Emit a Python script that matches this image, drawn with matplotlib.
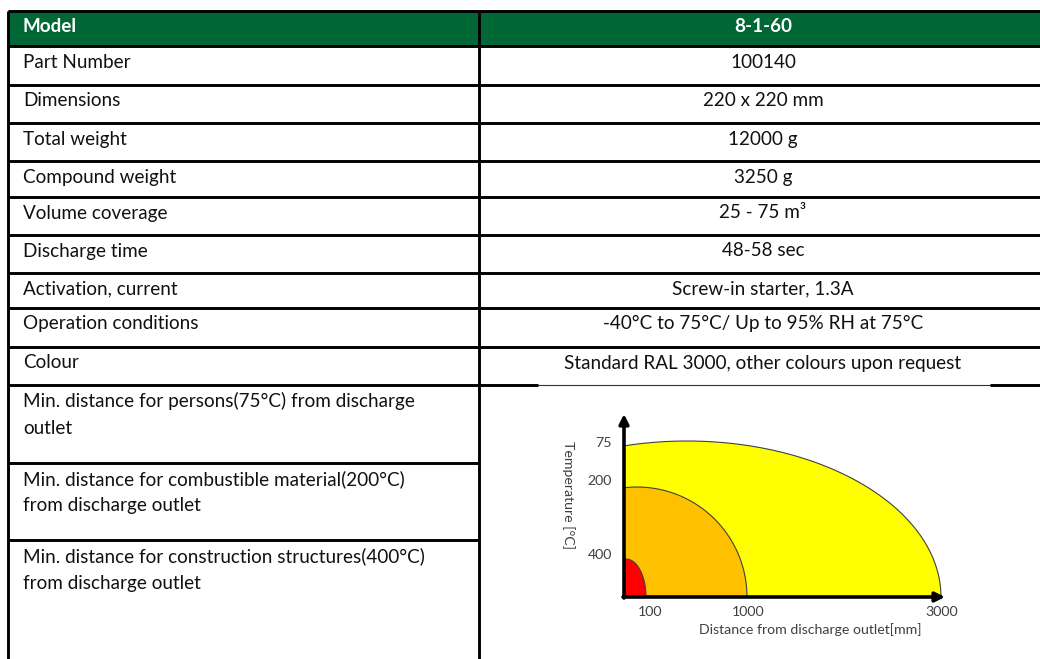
import numpy as np
import matplotlib
matplotlib.use("Agg")
import matplotlib.pyplot as plt

# ---------------- data ----------------
header = ["Model", "8-1-60"]
row_labels = [
    "Part Number", "Dimensions", "Total weight", "Compound weight",
    "Volume coverage", "Discharge time", "Activation, current",
    "Operation conditions", "Colour",
]
row_values = [
    "100140", "220 x 220 mm", "12000 g", "3250 g", "25 - 75 m³",
    "48-58 sec", "Screw-in starter, 1.3A",
    "-40°C to 75°C/ Up to 95% RH at 75°C",
    "Standard RAL 3000, other colours upon request",
]
dist_labels = [
    "Min. distance for persons(75°C) from discharge\noutlet",
    "Min. distance for combustible material(200°C)\nfrom discharge outlet",
    "Min. distance for construction structures(400°C)\nfrom discharge outlet",
]
zone_distance_mm = [100, 1000, 3000]
zone_temp_c = [400, 200, 75]
zone_colors = ["#ff0000", "#ffc000", "#ffff00"]

# ---------------- layout (pixels) ----------------
W, H = 1040, 659
row_edges = [11, 46, 85, 123, 161, 197, 235, 273, 308, 347, 385, 463, 540, 659]
x_left, x_mid, x_right = 8, 479, 1040
green = "#006837"
lw_tab = 2.1
txt_col = "#111111"
FONT = "Lato"
fs = 13.6

fig = plt.figure(figsize=(W / 100, H / 100), dpi=100)
ax = fig.add_axes([0, 0, 1, 1])
ax.set_xlim(0, W)
ax.set_ylim(H, 0)
ax.axis("off")

# header
ax.fill_between([x_left, x_right], row_edges[0], row_edges[1], color=green, lw=0)
ax.text(23, row_edges[0] + 21.5, header[0], color="white",
        fontsize=fs, fontweight="bold", family=FONT, va="baseline", ha="left")
ax.text(763, row_edges[0] + 21.5, header[1], color="white",
        fontsize=fs, fontweight="bold", family=FONT, va="baseline", ha="center")

# simple rows
for i, (lab, val) in enumerate(zip(row_labels, row_values)):
    top = row_edges[i + 1]
    ax.text(23, top + 21.5, lab, color=txt_col, fontsize=fs, family=FONT,
            va="baseline", ha="left")
    ax.text(763, top + 21.5, val, color=txt_col, fontsize=fs, family=FONT,
            va="baseline", ha="center")

# distance rows (two lines each)
for j, lab in enumerate(dist_labels):
    top = row_edges[len(row_labels) + 1 + j]
    for k, line in enumerate(lab.split("\n")):
        ax.text(23, top + 22.5 + 26 * k, line, color=txt_col, fontsize=fs,
                family=FONT, va="baseline", ha="left")

# horizontal lines
for y in row_edges[:-1]:
    if y == 385:
        ax.plot([x_left, 538], [y, y], color="black", lw=lw_tab, solid_capstyle="butt")
        ax.plot([538, 990], [y, y], color="#333333", lw=0.8)
        ax.plot([990, x_right], [y, y], color="black", lw=lw_tab, solid_capstyle="butt")
    elif y > 385:
        ax.plot([x_left, x_mid], [y, y], color="black", lw=lw_tab, solid_capstyle="butt")
    else:
        ax.plot([x_left, x_right], [y, y], color="black", lw=lw_tab, solid_capstyle="butt")
# vertical lines
ax.plot([x_left, x_left], [row_edges[0], H], color="black", lw=lw_tab, solid_capstyle="butt")
ax.plot([x_mid, x_mid], [row_edges[0], H], color="black", lw=lw_tab, solid_capstyle="butt")

# ---------------- chart inset ----------------
ox, oy = 624, 597           # origin in pixels
cw, ch = 340, 200
cax = fig.add_axes([ox / W, (H - oy) / H, cw / W, ch / H])
cax.set_xlim(0, cw)
cax.set_ylim(0, ch)
cax.axis("off")

# schematic (non-linear) axis positions of the labelled values
x_tick_pos = [26, 124, 318]
y_tick_pos = [42, 116, 154]
zone_reach = [22, 123, 317]
zone_height = [38, 110, 156]
zone_center = [2, 13, 63]

t = np.linspace(0, np.pi, 400)
for reach, hgt, cen, col in sorted(zip(zone_reach, zone_height, zone_center, zone_colors),
                                   key=lambda z: -z[0]):
    a = reach - cen
    xs = cen + a * np.cos(t)
    ys = hgt * np.sin(t)
    m = xs >= 0
    xs, ys = xs[m], ys[m]
    order = np.argsort(xs)
    cx = np.concatenate([[0], xs[order], [xs.max()]])
    cy = np.concatenate([[ys[order][0]], ys[order], [0]])
    cax.fill(np.concatenate([[0], cx, [0]]), np.concatenate([[0], cy, [0]]),
             color=col, lw=0, zorder=2)
    cax.plot(cx[1:], cy[1:], color="#404040", lw=0.8, zorder=3, clip_on=False)

# axes arrows
cax.annotate("", xy=(321, 0), xytext=(-1, 0),
             arrowprops=dict(arrowstyle="-|>", lw=2.6, color="black",
                             mutation_scale=14, shrinkA=0, shrinkB=0),
             zorder=5, annotation_clip=False)
cax.annotate("", xy=(0, 183), xytext=(0, -1),
             arrowprops=dict(arrowstyle="-|>", lw=2.6, color="black",
                             mutation_scale=14, shrinkA=0, shrinkB=0),
             zorder=5, annotation_clip=False)

ccol = "#404040"
cfs = 10.2
for d, xp in zip(zone_distance_mm, x_tick_pos):
    cax.text(xp, -15, str(d), ha="center", va="center", fontsize=cfs,
             color=ccol, family=FONT, clip_on=False)
for tc, yp in zip(zone_temp_c, y_tick_pos):
    cax.text(-12, yp, str(tc), ha="right", va="center", fontsize=cfs,
             color=ccol, family=FONT, clip_on=False)
cax.text(186, -33, "Distance from discharge outlet[mm]", ha="center", va="center",
         fontsize=cfs, color=ccol, family=FONT, clip_on=False)
cax.text(-56, 102, "Temperature [°C]", ha="center", va="center", rotation=-90,
         fontsize=cfs, color=ccol, family=FONT, clip_on=False)

fig.savefig("out.png", dpi=100)
